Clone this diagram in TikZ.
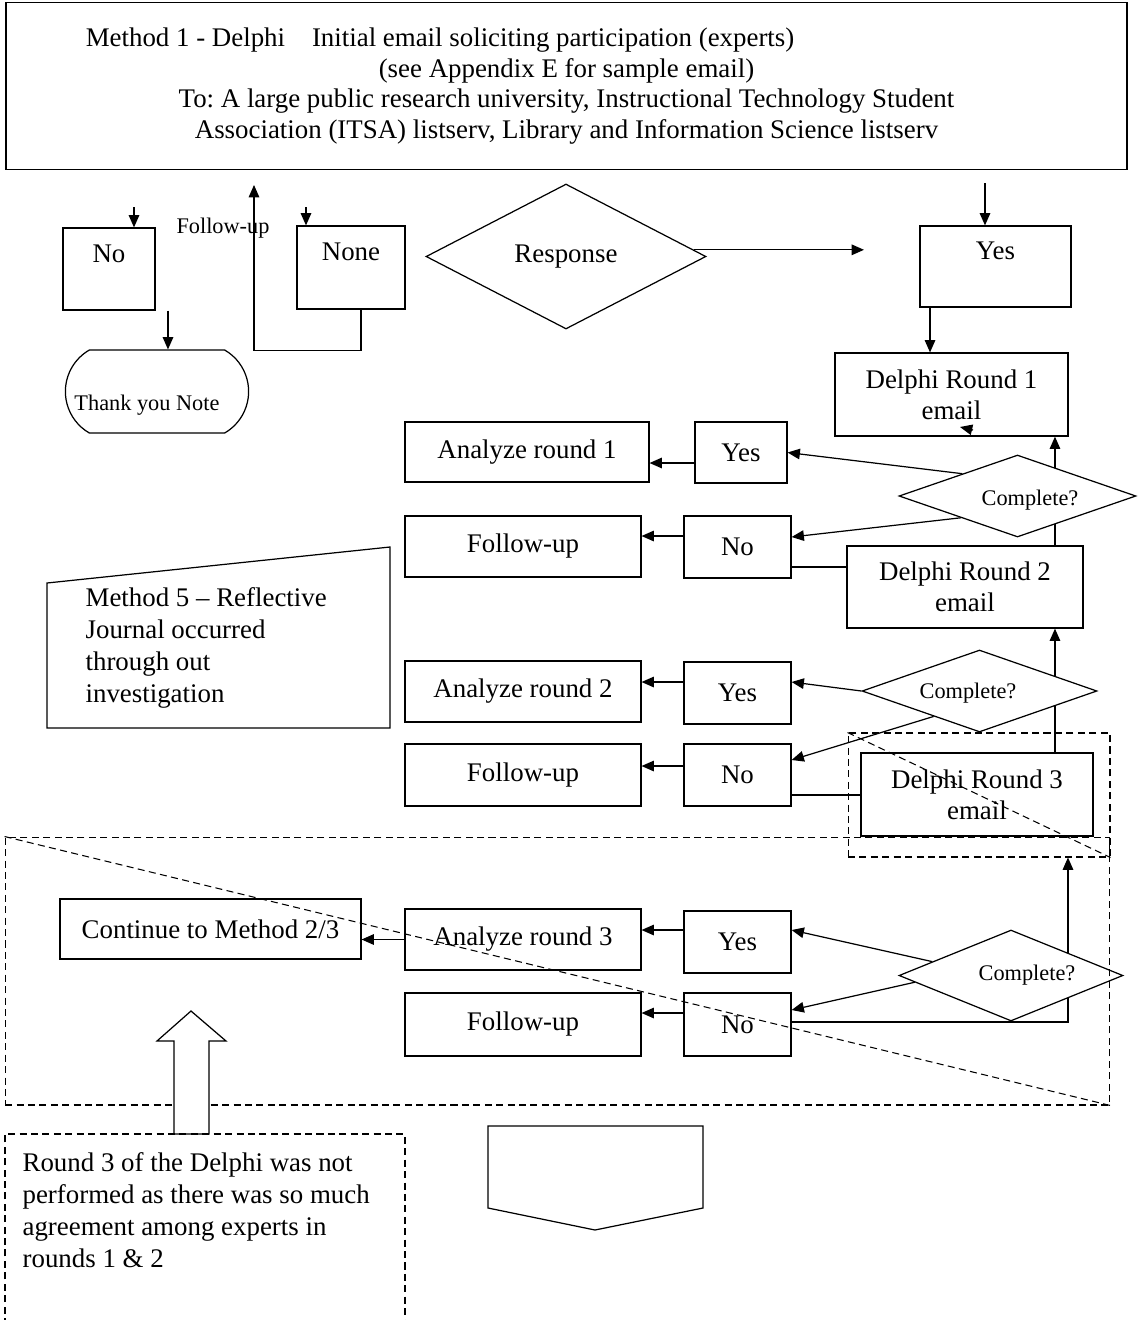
\documentclass[tikz,border=0pt]{standalone}
\usepackage{fontspec}
\setmainfont{Liberation Serif}
\usetikzlibrary{arrows.meta,shapes.geometric,shapes.misc}
\frenchspacing

\begin{document}
\begin{tikzpicture}[x=0.02cm,y=-0.02cm,
    font=\fontsize{15.3}{17.5}\selectfont,
    line width=0.7pt,
    box/.style={draw, rectangle, inner sep=0pt, align=center},
    choice/.style={draw, diamond, fill=white, inner sep=0pt},
    small/.style={font=\fontsize{12.7}{15}\selectfont},
    frame/.style={draw, dash pattern=on 4pt off 2.5pt, line width=0.6pt},
    arr/.style={-{Triangle[length=7pt,width=6pt]}}]
    \useasboundingbox (0,0) rectangle (1139,1320);

    % invitation email
    \node[box, minimum width=22.42cm, minimum height=3.34cm] (invite) at (566.5,86) {Method 1 - Delphi\hspace{1em}Initial email soliciting participation (experts)\hspace*{144pt}\\ (see Appendix E for sample email)\\ To: A large public research university, Instructional Technology Student\\ Association (ITSA) listserv, Library and Information Science listserv};

    % first response
    \node[box, minimum width=1.84cm, minimum height=1.64cm] (no0) at (109,269) {No\\ ~};
    \node[box, minimum width=2.16cm, minimum height=1.66cm] (none) at (351,267.5) {None\\ ~};
    \node[small] (fulabel) at (223,228) {Follow-up};
    \node[choice, minimum width=5.6cm, minimum height=2.9cm] (response) at (566,256.5) {Response};
    \node[box, minimum width=3.02cm, minimum height=1.62cm] (yes0) at (995.5,266.5) {Yes\\ ~};
    \node[draw, rounded rectangle, rounded rectangle arc length=120, minimum width=3.9cm, minimum height=1.66cm] (thanks) at (157,391.5) {};
    \node[small] (thankstext) at (147,405) {Thank you Note};

    \coordinate (noin) at (134,207);
    \draw[arr] (noin) -- (noin |- no0.north);
    \coordinate (nonein) at (306,207);
    \draw[arr] (nonein) -- (nonein |- none.north);
    \coordinate (yesin) at (985,183);
    \draw[arr] (yesin) -- (yesin |- yes0.north);
    \coordinate (futip) at (254,185);
    \draw[arr] ([xshift=0.2cm]none.south) -- ++(0,41) -| (futip);
    \draw[arr] ([xshift=1.18cm]no0.south) coordinate (t) -- (t |- thanks.north);
    \coordinate (respout) at (864,249);
    \draw[arr] (response.3) -- (response.3 -| respout);

    % round 1
    \node[box, minimum width=4.66cm, minimum height=1.66cm] (round1) at (951.5,394.5) {Delphi Round 1\\ email};
    \draw[arr] ([xshift=-1.31cm]yes0.south) coordinate (t) -- (t |- round1.north);
    \coordinate (stray) at (973,430);
    \draw[arr] (stray) -- ++(-13,-3);

    \node[box, minimum width=4.88cm, minimum height=1.2cm] (an1) at (527,452) {Analyze round 1};
    \node[box, minimum width=1.84cm, minimum height=1.22cm] (yes1) at (741,452.5) {Yes};
    \draw[arr] ([yshift=-0.21cm]yes1.west) coordinate (t) -- (t -| an1.east);
    \node[box, minimum width=4.72cm, minimum height=1.22cm] (fu2) at (523,546.5) {Follow-up};
    \node[box, minimum width=2.14cm, minimum height=1.24cm] (no2) at (737.5,547) {No};
    \draw[arr] ([yshift=0.22cm]no2.west) coordinate (t) -- (t -| fu2.east);

    % round 2
    \node[box, minimum width=4.72cm, minimum height=1.64cm] (round2) at (965,587) {Delphi Round 2\\ email};
    \draw ([yshift=-0.4cm]no2.east) coordinate (t) -- (t -| round2.west);
    \draw[arr] ([xshift=1.8cm]round2.north) coordinate (t) -- (t |- round1.south);
    \node[choice, minimum width=4.74cm, minimum height=1.64cm] (check1) at (1017.5,496) {};
    \node[small] (check1text) at (1030,500) {Complete?};
    \draw[arr] (check1.158) -- (yes1.east);
    \draw[arr] (check1.201) -- ([yshift=0.2cm]no2.east);

    \node[box, minimum width=4.72cm, minimum height=1.22cm] (an2) at (523,691.5) {Analyze round 2};
    \node[box, minimum width=2.14cm, minimum height=1.24cm] (yes3) at (737.5,693) {Yes};
    \draw[arr] ([yshift=0.22cm]yes3.west) coordinate (t) -- (t -| an2.east);
    \node[box, minimum width=4.72cm, minimum height=1.24cm] (fu4) at (523,775) {Follow-up};
    \node[box, minimum width=2.14cm, minimum height=1.24cm] (no4) at (737.5,775) {No};
    \draw[arr] ([yshift=0.18cm]no4.west) coordinate (t) -- (t -| fu4.east);

    % round 3
    \node[box, minimum width=4.64cm, minimum height=1.66cm] (round3) at (977,794.5) {Delphi Round 3\\ email};
    \draw ([yshift=-0.4cm]no4.east) coordinate (t) -- (t -| round3.west);
    \draw[arr] ([xshift=1.56cm]round3.north) coordinate (t) -- (t |- round2.south);
    \node[choice, minimum width=4.7cm, minimum height=1.64cm] (check2) at (979.5,691) {};
    \node[small] (check2text) at (968,693) {Complete?};
    \draw[arr] (check2.west) -- ([yshift=0.22cm]yes3.east);
    \draw[arr] (check2.209) -- ([yshift=0.3cm]no4.east);

    \node[frame, minimum width=5.24cm, minimum height=2.48cm] (frame3) at (979,795) {};
    \draw[frame] (frame3.north west) -- (frame3.south east);

    \node[box, minimum width=4.72cm, minimum height=1.22cm] (an3) at (523,939.5) {Analyze round 3};
    \node[box, minimum width=2.14cm, minimum height=1.24cm] (yes5) at (737.5,942) {Yes};
    \draw[arr] ([yshift=0.24cm]yes5.west) coordinate (t) -- (t -| an3.east);
    \node[box, minimum width=6.02cm, minimum height=1.2cm] (next) at (210.5,929) {Continue to Method 2/3};
    \draw[arr] (an3.west) -- (an3.west -| next.east);
    \node[box, minimum width=4.72cm, minimum height=1.26cm] (fu6) at (523,1024.5) {Follow-up};
    \node[box, minimum width=2.14cm, minimum height=1.26cm] (no6) at (737.5,1024.5) {No};
    \draw[arr] ([yshift=0.23cm]no6.west) coordinate (t) -- (t -| fu6.east);
    \draw[arr] ([yshift=0.05cm]no6.east) -| ([xshift=1.78cm]frame3.south);
    \node[choice, minimum width=4.48cm, minimum height=1.82cm] (check3) at (1011,975.5) {};
    \node[small] (check3text) at (1027,975) {Complete?};
    \draw[arr] (check3.170) -- ([yshift=0.24cm]yes5.east);
    \draw[arr] (check3.184) -- ([yshift=0.29cm]no6.east);

    \node[frame, minimum width=22.1cm, minimum height=5.36cm] (frame2) at (557.5,971) {};
    \draw[frame] (frame2.north west) -- (frame2.south east);

    % reflective journal
    \draw (47,583) -- (390,547) -- (390,728) -- (47,728) -- cycle;
    \node[anchor=west, align=left, inner sep=0pt, font=\fontsize{15.3}{18.2}\selectfont] (journal) at (85,648) {Method 5 – Reflective\\ Journal occurred\\ through out\\ investigation};

    % note on round 3
    \draw[fill=white] (174,1134) -- (174,1041) -- (157,1041) -- (191,1011) -- (226,1041) -- (209,1041) -- (209,1134) -- cycle;
    \draw[frame] (5,1325) -- (5,1134) -- (405,1134) -- (405,1325);
    \node[anchor=west, align=left, inner sep=0pt, font=\fontsize{15.3}{18.2}\selectfont] (note) at (22,1210) {Round 3 of the Delphi was not\\ performed as there was so much\\ agreement among experts in\\ rounds 1 \& 2};
    \draw (488,1126) -- (703,1126) -- (703,1208) -- (595,1230) -- (488,1208) -- cycle;

\end{tikzpicture}
\end{document}
